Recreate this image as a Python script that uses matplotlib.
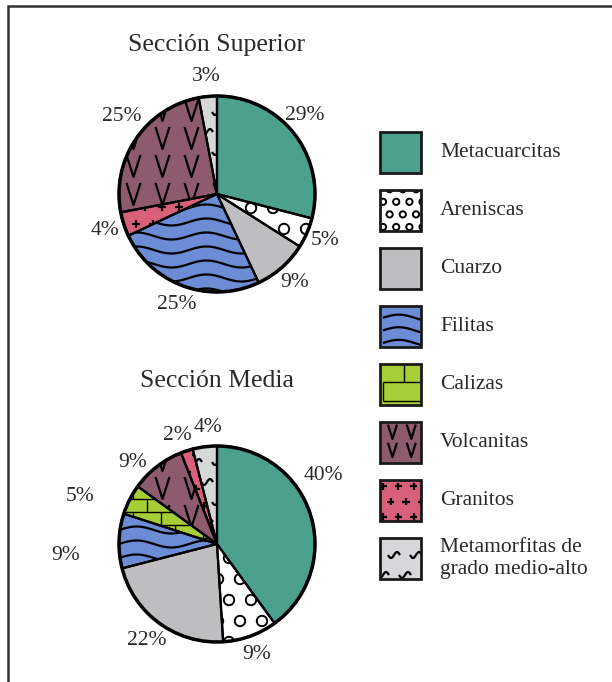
import numpy as np
import matplotlib
matplotlib.use('Agg')
import matplotlib.pyplot as plt
from matplotlib.patches import Wedge, Rectangle, Circle
from matplotlib.collections import LineCollection, PatchCollection

# composition (%) of each section
categories = ['Metacuarcitas', 'Areniscas', 'Cuarzo', 'Filitas', 'Calizas',
              'Volcanitas', 'Granitos', 'Metamorfitas de\ngrado medio-alto']
superior = [29, 5, 9, 25, 0, 25, 4, 3]
media = [40, 9, 22, 9, 5, 9, 2, 4]
titles = ['Sección Superior', 'Sección Media']
# clockwise slice order (from the top) in each pie
order_sup = [0, 1, 2, 3, 6, 5, 7]
order_med = [0, 1, 2, 3, 4, 5, 6, 7]

colors = ['#4BA08E', '#FFFFFF', '#BEBEC0', '#6C8CD5', '#A6CE39',
          '#8E5B6E', '#D9607A', '#D7D7DA']
patterns = [None, 'circles', None, 'waves', 'bricks', 'vees', 'plus', 'tilde']
leg_scale = {'circles': 0.6, 'waves': 0.9, 'bricks': 1.5, 'vees': 0.65,
             'plus': 0.9, 'tilde': 1.0}

W, H = 612, 682
FONT = 'Liberation Serif'
TXT = '#2a2a2a'


def fill_pattern(ax, clip, kind, x0, y0, x1, y1, s=1.0):
    """draw a hand-made hatch inside the box, clipped to clip patch"""
    arts = []
    segs = []
    if kind == 'circles':
        dx, dy, r = 22 * s, 21 * s, 5.2 * s
        circ = []
        for j, y in enumerate(np.arange(y0, y1 + dy, dy)):
            off = (j % 2) * dx / 2
            for x in np.arange(x0 - dx + off, x1 + dx, dx):
                circ.append(Circle((x, y), r))
        arts.append(PatchCollection(circ, facecolor='none', edgecolor='black', linewidth=1.4))
    elif kind == 'waves':
        dy, amp, per = 14 * s, 3.5 * s, 70 * s
        x = np.linspace(x0, x1, 200)
        for y in np.arange(y0, y1 + dy, dy):
            segs.append(np.column_stack([x, y + amp * np.sin(2 * np.pi * (x - x0) / per)]))
    elif kind == 'bricks':
        bh, bw = 13 * s, 28 * s
        for j, y in enumerate(np.arange(y0, y1 + bh, bh)):
            segs.append([(x0, y), (x1, y)])
            off = (j % 2) * bw / 2
            for x in np.arange(x0 + off, x1 + bw, bw):
                segs.append([(x, y), (x, y + bh)])
    elif kind == 'vees':
        dx, dy, hw, hh = 29 * s, 28 * s, 7 * s, 11 * s
        for y in np.arange(y0 + dy / 2, y1 + dy, dy):
            for x in np.arange(x0 + dx / 2, x1 + dx, dx):
                segs.append([(x - hw, y + hh), (x, y - hh), (x + hw, y + hh)])
    elif kind == 'plus':
        dx, dy, a = 17 * s, 17 * s, 4 * s
        for j, y in enumerate(np.arange(y0, y1 + dy, dy)):
            off = (j % 2) * dx / 2
            for x in np.arange(x0 + off, x1 + dx, dx):
                segs.append([(x - a, y), (x + a, y)])
                segs.append([(x, y - a), (x, y + a)])
    elif kind == 'tilde':
        dx, dy, w, amp = 22 * s, 20 * s, 12 * s, 3 * s
        t = np.linspace(-0.5, 0.5, 20)
        for j, y in enumerate(np.arange(y0, y1 + dy, dy)):
            off = (j % 2) * dx / 2
            for x in np.arange(x0 + off, x1 + dx, dx):
                segs.append(np.column_stack([x + t * w, y + amp * np.sin(2 * np.pi * t)]))
    if segs:
        lw = 1.0 if kind == 'bricks' else 1.6
        arts.append(LineCollection(segs, colors='black', linewidths=lw, capstyle='butt'))
    for a in arts:
        ax.add_collection(a)
        a.set_clip_path(clip)


fig = plt.figure(figsize=(W / 100, H / 100), dpi=100)
ax = fig.add_axes([0, 0, 1, 1])

# pie layout: centre (pixel, y up), radius, label distances, label angle shifts
pie_centers = [(217, 488), (217, 138)]
R = 98
title_y = [637, 301]
lab_dist = [[1.2, 1.2, 1.2, 1.2, 1.2, 1.25, 1.2],
            [1.29, 1.2, 1.22, 1.55, 1.48, 1.2, 1.18, 1.19]]
lab_shift = [[4, 0, 0, 0, 0, -5, 0],
             [15, 0, 0, 6, 8, 8, 2, -3]]

for k, (data, order) in enumerate([(superior, order_sup), (media, order_med)]):
    vals = [data[i] for i in order]
    cx, cy = pie_centers[k]
    wedges, _ = ax.pie(vals, colors=[colors[i] for i in order], startangle=90,
                       counterclock=False, center=(cx, cy), radius=R,
                       wedgeprops=dict(edgecolor='none', linewidth=0))
    for n, (w, i) in enumerate(zip(wedges, order)):
        if patterns[i]:
            fill_pattern(ax, w, patterns[i], cx - R, cy - R, cx + R, cy + R)
        ax.add_patch(Wedge(w.center, w.r, w.theta1, w.theta2, fill=False,
                           edgecolor='black', linewidth=1.6, zorder=5))
        ang = np.deg2rad((w.theta1 + w.theta2) / 2 + lab_shift[k][n])
        d = lab_dist[k][n] * R
        ax.text(cx + d * np.cos(ang), cy + d * np.sin(ang), f'{vals[n]}%',
                ha='center', va='center', fontsize=15.5, family=FONT, color=TXT)
    ax.add_patch(Circle((cx, cy), R, fill=False, edgecolor='black', linewidth=2.5, zorder=6))
    ax.text(cx, title_y[k], titles[k], ha='center', va='center',
            fontsize=18.5, family=FONT, color=TXT)

# legend swatches
sw, sx, top, step = 41, 380, 550, 58
for i, name in enumerate(categories):
    y = top - i * step - sw
    r = Rectangle((sx, y), sw, sw, facecolor=colors[i], edgecolor='none')
    ax.add_patch(r)
    if patterns[i]:
        fill_pattern(ax, r, patterns[i], sx + 3, y + 4, sx + sw, y + sw,
                     s=leg_scale[patterns[i]])
    ax.add_patch(Rectangle((sx, y), sw, sw, fill=False, edgecolor='#1a1a1a',
                           linewidth=2, zorder=5))
    ax.text(sx + 60, y + sw / 2, name, ha='left', va='center', fontsize=15.5,
            family=FONT, color=TXT, linespacing=1.15)

# outer frame (right and bottom sides fall outside the picture)
ax.add_patch(Rectangle((8, -10), 612, 686, fill=False, edgecolor='#333333', linewidth=1.8))

ax.set_xlim(0, W)
ax.set_ylim(0, H)
ax.set_aspect('auto')
ax.axis('off')

plt.savefig('out.png', dpi=100)
